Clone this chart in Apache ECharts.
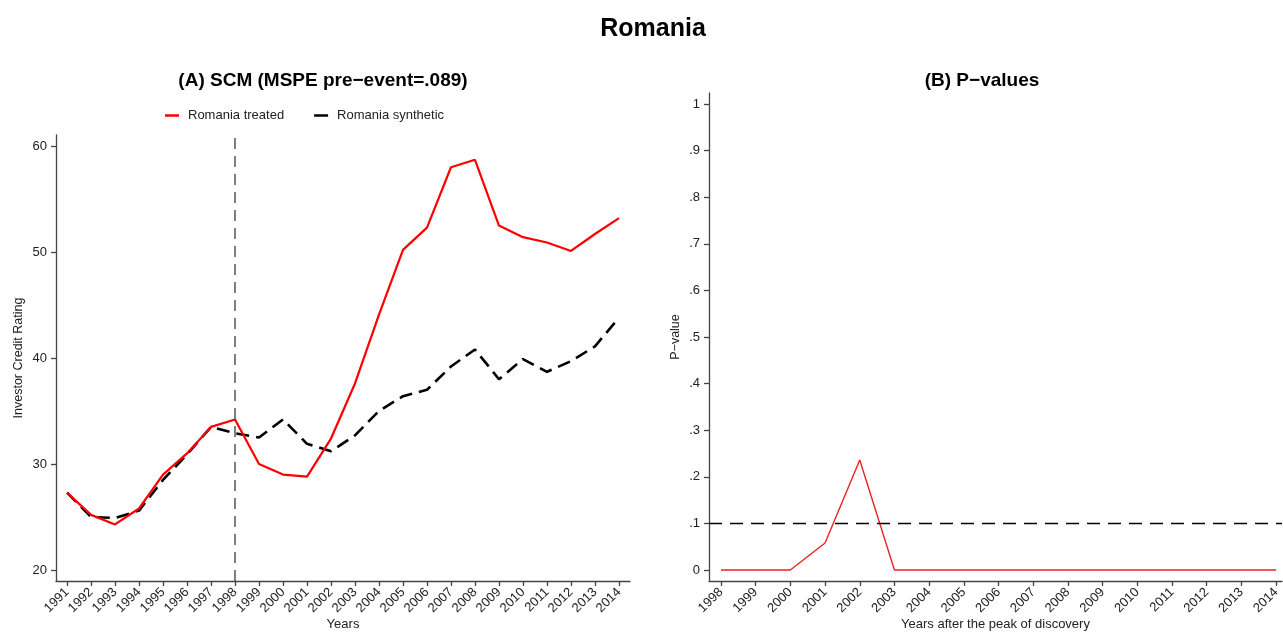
<!DOCTYPE html>
<html>
<head>
<meta charset="utf-8">
<title>Romania</title>
<script src="https://cdn.jsdelivr.net/npm/echarts@6/dist/echarts.min.js"></script>
<style>
  html, body { margin: 0; padding: 0; background: #fff; }
  #main { width: 1283px; height: 632px; }
</style>
</head>
<body>
<div id="main"></div>
<script>
// data
var years = [1991,1992,1993,1994,1995,1996,1997,1998,1999,2000,2001,2002,
             2003,2004,2005,2006,2007,2008,2009,2010,2011,2012,2013,2014];
var treated = [27.3,25.2,24.3,25.8,29.0,31.0,33.5,34.2,30.0,29.0,28.8,32.4,
               37.6,44.1,50.2,52.3,58.0,58.7,52.5,51.4,50.9,50.1,51.7,53.2];
var synthetic = [27.3,25.0,24.9,25.6,28.5,30.9,33.5,32.9,32.5,34.2,31.9,31.2,
                 32.7,35.0,36.4,37.0,39.2,40.8,38.0,39.9,38.7,39.7,41.1,43.8];
var pYears = [1998,1999,2000,2001,2002,2003,2004,2005,2006,2007,2008,2009,
              2010,2011,2012,2013,2014];
var pValues = [0,0,0,0.058,0.236,0,0,0,0,0,0,0,0,0,0,0,0];
var leftTicks = [20,30,40,50,60];
var rightTicks = [0,0.1,0.2,0.3,0.4,0.5,0.6,0.7,0.8,0.9,1];
var eventYear = 1998;
var pThreshold = 0.1;

var font = 'Liberation Sans, Arial, Helvetica, sans-serif';

function pairs(xs, ys) {
    var out = [];
    for (var i = 0; i < xs.length; i++) out.push([xs[i], ys[i]]);
    return out;
}

function pLabel(v) {
    if (v === 0) return '0';
    if (v === 1) return '1';
    return '.' + Math.round(v * 10);
}

var axisColor = { color: '#444', width: 1.3 };

var chart = echarts.init(document.getElementById('main'), null, { renderer: 'canvas' });

var option = {
    animation: false,
    backgroundColor: '#fff',
    textStyle: { fontFamily: font },
    title: [
        { text: 'Romania', left: 648, top: 12, textAlign: 'center',
          textStyle: { fontSize: 25, fontWeight: 'bold', color: '#000', fontFamily: font } },
        { text: '(A) SCM (MSPE pre\u2212event=.089)', left: 318, top: 66, textAlign: 'center',
          textStyle: { fontSize: 19, fontWeight: 'bold', color: '#000', fontFamily: font } },
        { text: '(B) P\u2212values', left: 977, top: 66, textAlign: 'center',
          textStyle: { fontSize: 19, fontWeight: 'bold', color: '#000', fontFamily: font } }
    ],
    legend: {
        left: 160, top: 104,
        icon: 'rect',
        itemWidth: 14, itemHeight: 2.5, itemGap: 30,
        textStyle: { fontSize: 13, color: '#222', fontFamily: font, padding: [0, 0, 0, 4] },
        data: [
            { name: 'Romania treated', itemStyle: { color: '#ff0000' } },
            { name: 'Romania synthetic', itemStyle: { color: '#000' } }
        ]
    },
    grid: [
        { left: 56, top: 135, width: 574, height: 446, outerBoundsMode: 'none', containLabel: false },
        { left: 709, top: 93, width: 573, height: 488, outerBoundsMode: 'none', containLabel: false }
    ],
    xAxis: [
        {
            gridIndex: 0, type: 'value', min: 1990.54, max: 2014.46,
            name: 'Years', nameLocation: 'middle', nameGap: 37, nameMoveOverlap: false,
            nameTextStyle: { fontSize: 13, color: '#222' },
            splitLine: { show: false },
            axisLine: { onZero: false, lineStyle: axisColor },
            axisTick: { show: true, length: 5, lineStyle: axisColor, customValues: years },
            axisLabel: { customValues: years, rotate: 45, fontSize: 13, color: '#222', margin: 9,
                         formatter: function (v) { return String(v); } }
        },
        {
            gridIndex: 1, type: 'value', min: 1997.655, max: 2014.17,
            name: 'Years after the peak of discovery', nameLocation: 'middle', nameGap: 37,
            nameMoveOverlap: false,
            nameTextStyle: { fontSize: 13, color: '#222' },
            splitLine: { show: false },
            axisLine: { onZero: false, lineStyle: axisColor },
            axisTick: { show: true, length: 5, lineStyle: axisColor, customValues: pYears },
            axisLabel: { customValues: pYears, rotate: 45, fontSize: 13, color: '#222', margin: 9,
                         formatter: function (v) { return String(v); } }
        }
    ],
    yAxis: [
        {
            gridIndex: 0, type: 'value', min: 18.96, max: 61.04,
            name: 'Investor Credit Rating', nameLocation: 'middle', nameGap: 31,
            nameTextStyle: { fontSize: 12.5, color: '#222' },
            splitLine: { show: false },
            axisLine: { show: true, onZero: false, lineStyle: axisColor },
            axisTick: { show: true, length: 5, lineStyle: axisColor, customValues: leftTicks },
            axisLabel: { customValues: leftTicks, fontSize: 13, color: '#222', margin: 9 }
        },
        {
            gridIndex: 1, type: 'value', min: -0.0236, max: 1.0236,
            name: 'P\u2212value', nameLocation: 'middle', nameGap: 27,
            nameTextStyle: { fontSize: 12.5, color: '#222' },
            splitLine: { show: false },
            axisLine: { show: true, onZero: false, lineStyle: axisColor },
            axisTick: { show: true, length: 5, lineStyle: axisColor, customValues: rightTicks },
            axisLabel: { customValues: rightTicks, fontSize: 13, color: '#222', margin: 9,
                         formatter: pLabel }
        }
    ],
    series: [
        {
            name: 'Romania treated', type: 'line', xAxisIndex: 0, yAxisIndex: 0,
            data: pairs(years, treated), symbol: 'none',
            itemStyle: { color: '#ff0000' },
            lineStyle: { color: '#ff0000', width: 2.2 },
            z: 3,
            markLine: {
                silent: true, symbol: 'none', label: { show: false },
                lineStyle: { color: '#555', type: [11, 7], width: 1.5 },
                data: [{ xAxis: eventYear }]
            }
        },
        {
            name: 'Romania synthetic', type: 'line', xAxisIndex: 0, yAxisIndex: 0,
            data: pairs(years, synthetic), symbol: 'none',
            itemStyle: { color: '#000' },
            lineStyle: { color: '#000', width: 2.6, type: [13, 7] },
            z: 2
        },
        {
            name: 'P-value', type: 'line', xAxisIndex: 1, yAxisIndex: 1,
            data: pairs(pYears, pValues), symbol: 'none',
            lineStyle: { color: '#ee2222', width: 1.4 },
            markLine: {
                silent: true, symbol: 'none', label: { show: false },
                lineStyle: { color: '#000', type: [13, 8], width: 1.3 },
                data: [{ yAxis: pThreshold }]
            }
        }
    ]
};

chart.setOption(option);
</script>
</body>
</html>
